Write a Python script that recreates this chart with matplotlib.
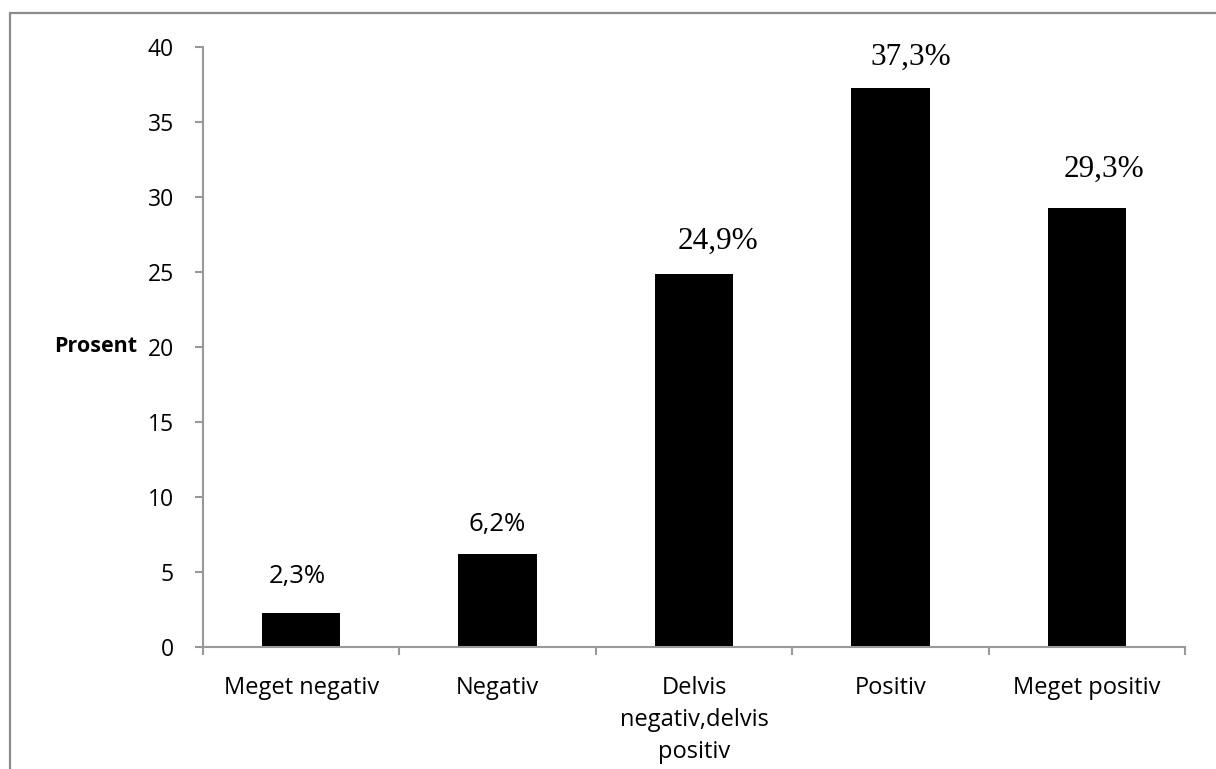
import matplotlib.pyplot as plt
from matplotlib.patches import Rectangle
from matplotlib.ticker import FixedLocator

# Survey answers (percent)
categories = ['Meget negativ', 'Negativ', 'Delvis\nnegativ,delvis\npositiv', 'Positiv', 'Meget positiv']
values = [2.3, 6.2, 24.9, 37.3, 29.3]
value_labels = ['2,3%', '6,2%', '24,9%', '37,3%', '29,3%']
label_serif = [False, False, True, True, True]

# label nudges in pixels (dx, dy above bar top)
label_offsets = [(-4, 29), (0, 23), (24, 25), (20, 23), (17, 31)]

DPI = 100
fig = plt.figure(figsize=(12.16, 7.69), dpi=DPI)
ax = fig.add_axes([203 / 1216, 122 / 769, 982 / 1216, 600 / 769])

# outer chart frame (open to the right and bottom edge)
fig.patches.append(Rectangle((10 / 1216, -0.2), 1.5, 1 - 12.5 / 769 + 0.2,
                             transform=fig.transFigure, fill=False,
                             edgecolor='#8c8c8c', linewidth=1.6))

x = range(len(categories))
ax.bar(x, values, width=0.4, color='black')

for i, (v, lab) in enumerate(zip(values, value_labels)):
    dx, dy = label_offsets[i]
    if label_serif[i]:
        kw = dict(family='Liberation Serif', fontsize=22.5)
    else:
        kw = dict(family='Open Sans', fontsize=18.5)
    ax.annotate(lab, (i, v), xytext=(dx * 0.72, dy * 0.72), textcoords='offset points',
                ha='center', va='baseline', color='black', **kw)

ax.set_xlim(-0.5, len(categories) - 0.5)
ax.set_ylim(0, 40)
ax.set_yticks(range(0, 41, 5))

ax.set_xticks(list(x))
ax.set_xticklabels(categories, family='Open Sans', fontsize=17, linespacing=1.45)
ax.xaxis.set_minor_locator(FixedLocator([i - 0.5 for i in range(len(categories) + 1)]))
ax.tick_params(axis='x', which='major', length=0, pad=21)
ax.tick_params(axis='x', which='minor', length=6, width=1.5, color='#999999', direction='out')
ax.tick_params(axis='y', length=6, width=1.5, color='#999999', pad=15)
for t in ax.get_yticklabels():
    t.set_family('Open Sans')
    t.set_fontsize(16.5)

for s in ['top', 'right']:
    ax.spines[s].set_visible(False)
for s in ['left', 'bottom']:
    ax.spines[s].set_color('#999999')
    ax.spines[s].set_linewidth(1.5)

ax.set_ylabel('Prosent', rotation=0, ha='right', va='center',
              family='Open Sans', fontweight='bold', fontsize=15.5)
ax.yaxis.set_label_coords((137 - 203) / 982, 0.5)

fig.savefig('out.png', dpi=DPI)
